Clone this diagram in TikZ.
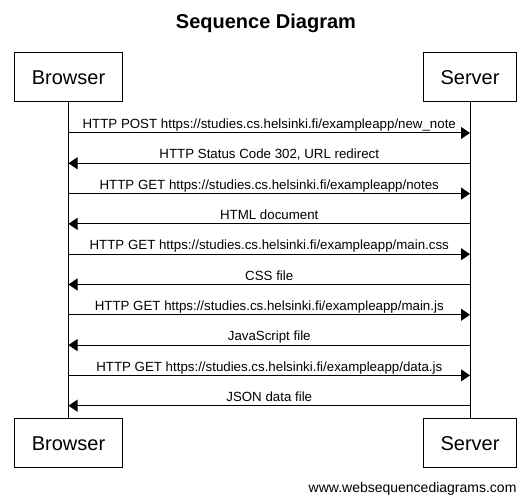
\documentclass[tikz,border=0pt]{standalone}
\usepackage{fontspec}
\setmainfont{Liberation Sans}
\usetikzlibrary{calc,math,positioning,arrows.meta}

\begin{document}
\begin{tikzpicture}[
  x=1pt,y=-1pt,
  color=black,
  actor/.style={rectangle,draw=black,line width=1pt,inner xsep=17pt,minimum height=49pt,font=\fontsize{20}{24}\selectfont},
  msg/.style={line width=1pt,-{Triangle[length=9pt,width=12pt]}},
  msglabel/.style={midway,anchor=base,yshift=4.3pt,inner sep=0pt,font=\fontsize{13.3}{15}\selectfont},
  ]
  \useasboundingbox (0,0) rectangle (531,502);

  \node (title) [draw=none,anchor=base,font=\fontsize{20}{24}\selectfont\bfseries] at(266,29) {Sequence Diagram};

  \node (actor_top_0) [actor] at(68.5,77.5) {Browser};
  \node (actor_top_1) [actor] at(470,77.5) {Server};
  \node (actor_bot_0) [actor] at(68.5,443.5) {Browser};
  \node (actor_bot_1) [actor] at(470,443.5) {Server};

  % lifelines
  \draw[line width=1pt] (actor_top_0) -- (actor_bot_0);
  \draw[line width=1pt] (actor_top_1) -- (actor_bot_1);

  \foreach \i/\src/\dst/\txt in {
      0/b/s/{HTTP POST https://studies.cs.helsinki.fi/exampleapp/new\_note},
      1/s/b/{HTTP Status Code 302, URL redirect},
      2/b/s/{HTTP GET https://studies.cs.helsinki.fi/exampleapp/notes},
      3/s/b/{HTML document},
      4/b/s/{HTTP GET https://studies.cs.helsinki.fi/exampleapp/main.css},
      5/s/b/{CSS file},
      6/b/s/{HTTP GET https://studies.cs.helsinki.fi/exampleapp/main.js},
      7/s/b/{JavaScript file},
      8/b/s/{HTTP GET https://studies.cs.helsinki.fi/exampleapp/data.js},
      9/s/b/{JSON data file}}
  {
    \tikzmath{
      \y = 133 + 30.3*\i;
    }
    \coordinate (b_\i) at(68.5,\y);
    \coordinate (s_\i) at(470,\y);
    \draw[msg] (\src_\i) -- (\dst_\i) node[msglabel] {\txt};
  }

  \node (credit) [draw=none,anchor=base east,font=\fontsize{14}{16}\selectfont] at(520,492.5) {www.websequencediagrams.com};

\end{tikzpicture}
\end{document}
